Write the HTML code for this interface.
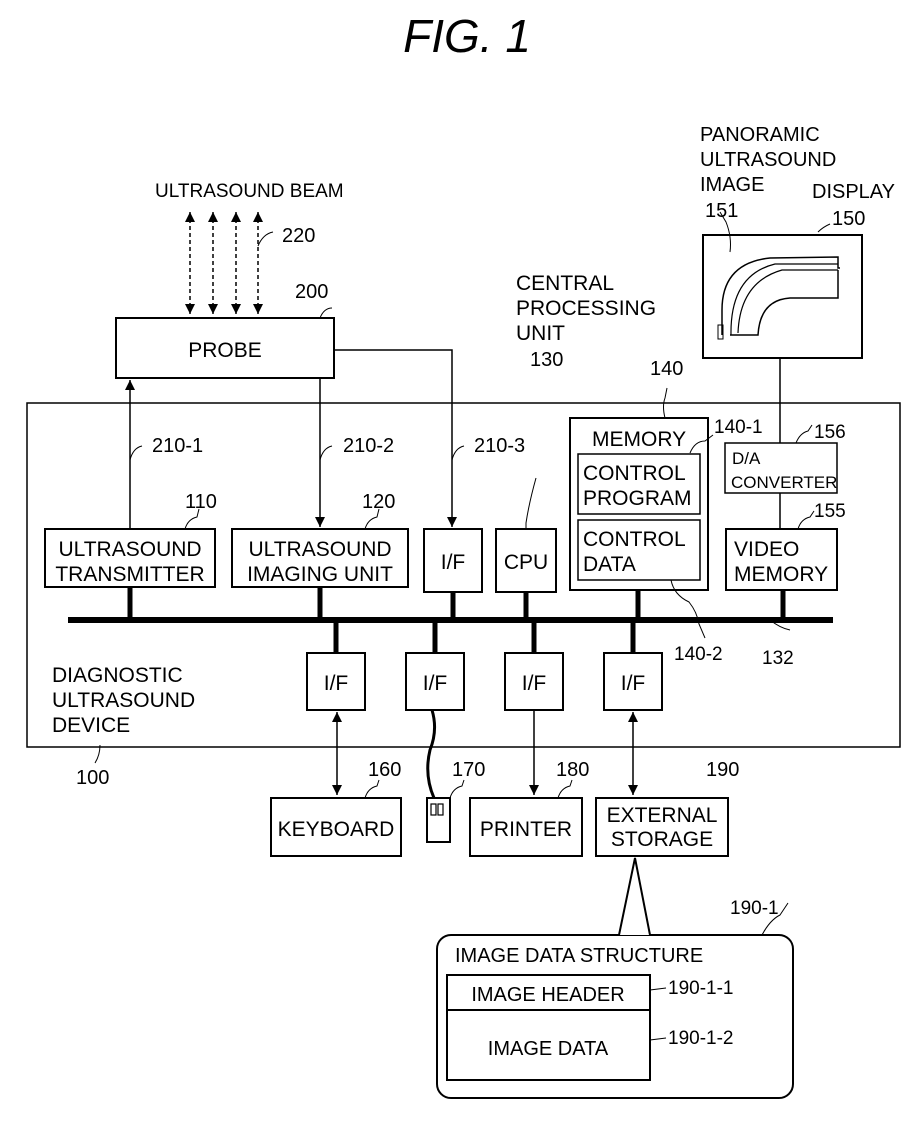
<!DOCTYPE html>
<html><head><style>
body{margin:0;background:#fff}
svg{display:block}
text{font-family:"Liberation Sans",sans-serif;fill:#000}
</style></head><body>
<svg width="921" height="1122" viewBox="0 0 921 1122" xmlns="http://www.w3.org/2000/svg">
<defs>
<marker id="a" viewBox="0 0 10 10" refX="10" refY="5" markerWidth="10" markerHeight="12" orient="auto-start-reverse" markerUnits="userSpaceOnUse"><path d="M0,0 L10,5 L0,10 z" fill="#000"/></marker>
</defs>
<text x="467" y="52" font-size="46" font-style="italic" text-anchor="middle">FIG.  1</text>

<g fill="none" stroke="#000" stroke-width="2">
<rect x="27" y="403" width="873" height="344" stroke-width="1.5"/>
<rect x="116" y="318" width="218" height="60"/>
<g stroke-dasharray="4,3" stroke-width="1.5">
<line x1="190" y1="212" x2="190" y2="314" marker-start="url(#a)" marker-end="url(#a)"/>
<line x1="213" y1="212" x2="213" y2="314" marker-start="url(#a)" marker-end="url(#a)"/>
<line x1="236" y1="212" x2="236" y2="314" marker-start="url(#a)" marker-end="url(#a)"/>
<line x1="258" y1="212" x2="258" y2="314" marker-start="url(#a)" marker-end="url(#a)"/>
</g>
<path d="M258,246 q5,-12 15,-14" stroke-width="1"/>
<path d="M320,318 q4,-10 12,-10" stroke-width="1"/>
<line x1="130" y1="529" x2="130" y2="380" marker-end="url(#a)" stroke-width="1.5"/>
<line x1="320" y1="378" x2="320" y2="527" marker-end="url(#a)" stroke-width="1.5"/>
<polyline points="334,350 452,350 452,527" marker-end="url(#a)" stroke-width="1.5"/>
<path d="M130,460 q3,-12 12,-14" stroke-width="1"/>
<path d="M320,460 q3,-12 12,-14" stroke-width="1"/>
<path d="M452,460 q3,-12 12,-14" stroke-width="1"/>
<rect x="45" y="529" width="170" height="58"/>
<rect x="232" y="529" width="176" height="58"/>
<rect x="424" y="529" width="58" height="63"/>
<rect x="496" y="529" width="60" height="63"/>
<rect x="570" y="418" width="138" height="172"/>
<rect x="578" y="454" width="122" height="60" stroke-width="1.5"/>
<rect x="578" y="520" width="122" height="60" stroke-width="1.5"/>
<rect x="725" y="443" width="112" height="50" stroke-width="1.5"/>
<rect x="726" y="529" width="111" height="61"/>
<path d="M185,529 q3,-10 12,-12 l2,-8" stroke-width="1"/>
<path d="M365,529 q3,-10 12,-12 l2,-8" stroke-width="1"/>
<path d="M526,529 l0,-6 q3,-20 10,-45" stroke-width="1"/>
<path d="M665,418 q-3,-12 0,-20 l2,-10" stroke-width="1"/>
<path d="M690,453 q5,-12 15,-12 l8,-6" stroke-width="1"/>
<path d="M796,443 q4,-10 12,-12 l4,-6" stroke-width="1"/>
<path d="M798,529 q3,-10 12,-12 l4,-6" stroke-width="1"/>
<path d="M671,580 q3,15 18,22 q8,10 10,22 l6,14" stroke-width="1"/>
<path d="M770,620 q10,8 20,10" stroke-width="1"/>
<rect x="703" y="235" width="159" height="123"/>
<path d="M818,232 q5,-5 12,-8" stroke-width="1"/>
<line x1="780" y1="358" x2="780" y2="443" stroke-width="1.5"/>
<line x1="780" y1="493" x2="780" y2="529" stroke-width="1.5"/>
<path d="M722,335 L722,310 Q722,263 770,258 L838,257 L838,268 L840,268" stroke-width="1.5"/>
<path d="M731,335 Q730,275 775,264 L838,264" stroke-width="1.2"/>
<path d="M738,333 Q740,282 782,270 L838,270" stroke-width="1.2"/>
<path d="M730,335 L758,335 Q760,300 790,298 L838,298 L838,270" stroke-width="1.5"/>
<rect x="718" y="325" width="5" height="14" stroke-width="1"/>
<path d="M730,252 q2,-15 -4,-30 l-6,-10" stroke-width="1"/>
<line x1="68" y1="620" x2="833" y2="620" stroke-width="6"/>
<g stroke-width="5">
<line x1="130" y1="587" x2="130" y2="620"/>
<line x1="320" y1="587" x2="320" y2="620"/>
<line x1="453" y1="592" x2="453" y2="620"/>
<line x1="526" y1="592" x2="526" y2="620"/>
<line x1="638" y1="590" x2="638" y2="620"/>
<line x1="783" y1="590" x2="783" y2="620"/>
<line x1="336" y1="620" x2="336" y2="653"/>
<line x1="435" y1="620" x2="435" y2="653"/>
<line x1="534" y1="620" x2="534" y2="653"/>
<line x1="633" y1="620" x2="633" y2="653"/>
</g>
<rect x="307" y="653" width="58" height="57"/>
<rect x="406" y="653" width="58" height="57"/>
<rect x="505" y="653" width="58" height="57"/>
<rect x="604" y="653" width="58" height="57"/>
<line x1="337" y1="712" x2="337" y2="795" marker-start="url(#a)" marker-end="url(#a)" stroke-width="1.5"/>
<path d="M432,710 q6,20 -2,40 q-6,25 4,48" stroke-width="3"/>
<line x1="534" y1="710" x2="534" y2="795" marker-end="url(#a)" stroke-width="1.5"/>
<line x1="633" y1="712" x2="633" y2="795" marker-start="url(#a)" marker-end="url(#a)" stroke-width="1.5"/>
<rect x="271" y="798" width="130" height="58"/>
<rect x="427" y="798" width="23" height="44"/>
<rect x="431" y="804" width="5" height="11" stroke-width="1.2"/>
<rect x="438" y="804" width="5" height="11" stroke-width="1.2"/>
<rect x="470" y="798" width="112" height="58"/>
<rect x="596" y="798" width="132" height="58"/>
<path d="M365,798 q3,-10 12,-12 l2,-6" stroke-width="1"/>
<path d="M450,798 q3,-10 12,-12 l2,-6" stroke-width="1"/>
<path d="M558,798 q3,-10 12,-12 l2,-6" stroke-width="1"/>
<path d="M100,745 q0,10 -5,18" stroke-width="1"/>
<rect x="437" y="935" width="356" height="163" rx="14"/>
<path d="M619,935 L635,858 L650,935" fill="#fff"/>
<path d="M762,935 q8,-15 18,-20 l8,-12" stroke-width="1"/>
<rect x="447" y="975" width="203" height="105"/>
<line x1="447" y1="1010" x2="650" y2="1010"/>
<line x1="650" y1="990" x2="666" y2="988" stroke-width="1"/>
<line x1="650" y1="1040" x2="666" y2="1038" stroke-width="1"/>
</g>

<g font-size="21">
<text x="155" y="197" font-size="19">ULTRASOUND  BEAM</text>
<text x="282" y="242" font-size="20">220</text>
<text x="295" y="298" font-size="20">200</text>
<text x="225" y="357" text-anchor="middle">PROBE</text>
<text x="152" y="452" font-size="20">210-1</text>
<text x="343" y="452" font-size="20">210-2</text>
<text x="474" y="452" font-size="20">210-3</text>
<text x="185" y="508" font-size="20">110</text>
<text x="362" y="508" font-size="20">120</text>
<text x="130" y="556" text-anchor="middle">ULTRASOUND</text>
<text x="130" y="581" text-anchor="middle">TRANSMITTER</text>
<text x="320" y="556" text-anchor="middle">ULTRASOUND</text>
<text x="320" y="581" text-anchor="middle">IMAGING UNIT</text>
<text x="453" y="569" text-anchor="middle" font-family="Liberation Serif">I/F</text>
<text x="526" y="569" text-anchor="middle">CPU</text>
<text x="516" y="290">CENTRAL</text>
<text x="516" y="315">PROCESSING</text>
<text x="516" y="340">UNIT</text>
<text x="530" y="366" font-size="20">130</text>
<text x="650" y="375" font-size="20">140</text>
<text x="592" y="446">MEMORY</text>
<text x="714" y="433" font-size="19">140-1</text>
<text x="583" y="480">CONTROL</text>
<text x="583" y="505">PROGRAM</text>
<text x="583" y="546">CONTROL</text>
<text x="583" y="571">DATA</text>
<text x="732" y="464" font-size="17" font-family="Liberation Serif">D/A</text>
<text x="731" y="488" font-size="17">CONVERTER</text>
<text x="814" y="438" font-size="19">156</text>
<text x="814" y="517" font-size="19">155</text>
<text x="734" y="556">VIDEO</text>
<text x="734" y="581">MEMORY</text>
<text x="674" y="660" font-size="19">140-2</text>
<text x="762" y="664" font-size="19">132</text>
<text x="52" y="682">DIAGNOSTIC</text>
<text x="52" y="707">ULTRASOUND</text>
<text x="52" y="732">DEVICE</text>
<text x="76" y="784" font-size="20">100</text>
<text x="336" y="690" text-anchor="middle" font-family="Liberation Serif">I/F</text>
<text x="435" y="690" text-anchor="middle" font-family="Liberation Serif">I/F</text>
<text x="534" y="690" text-anchor="middle" font-family="Liberation Serif">I/F</text>
<text x="633" y="690" text-anchor="middle" font-family="Liberation Serif">I/F</text>
<text x="368" y="776" font-size="20">160</text>
<text x="452" y="776" font-size="20">170</text>
<text x="556" y="776" font-size="20">180</text>
<text x="706" y="776" font-size="20">190</text>
<text x="336" y="836" text-anchor="middle">KEYBOARD</text>
<text x="526" y="836" text-anchor="middle">PRINTER</text>
<text x="662" y="822" text-anchor="middle">EXTERNAL</text>
<text x="662" y="846" text-anchor="middle">STORAGE</text>
<text x="730" y="914" font-size="19">190-1</text>
<text x="455" y="962" font-size="20">IMAGE DATA STRUCTURE</text>
<text x="548" y="1001" text-anchor="middle" font-size="20">IMAGE HEADER</text>
<text x="548" y="1055" text-anchor="middle" font-size="20">IMAGE DATA</text>
<text x="668" y="994" font-size="19">190-1-1</text>
<text x="668" y="1044" font-size="19">190-1-2</text>
<text x="700" y="141" font-size="20">PANORAMIC</text>
<text x="700" y="166" font-size="20">ULTRASOUND</text>
<text x="700" y="191" font-size="20">IMAGE</text>
<text x="705" y="217" font-size="20">151</text>
<text x="812" y="198" font-size="20">DISPLAY</text>
<text x="832" y="225" font-size="20">150</text>
</g>
</svg>
</body></html>
